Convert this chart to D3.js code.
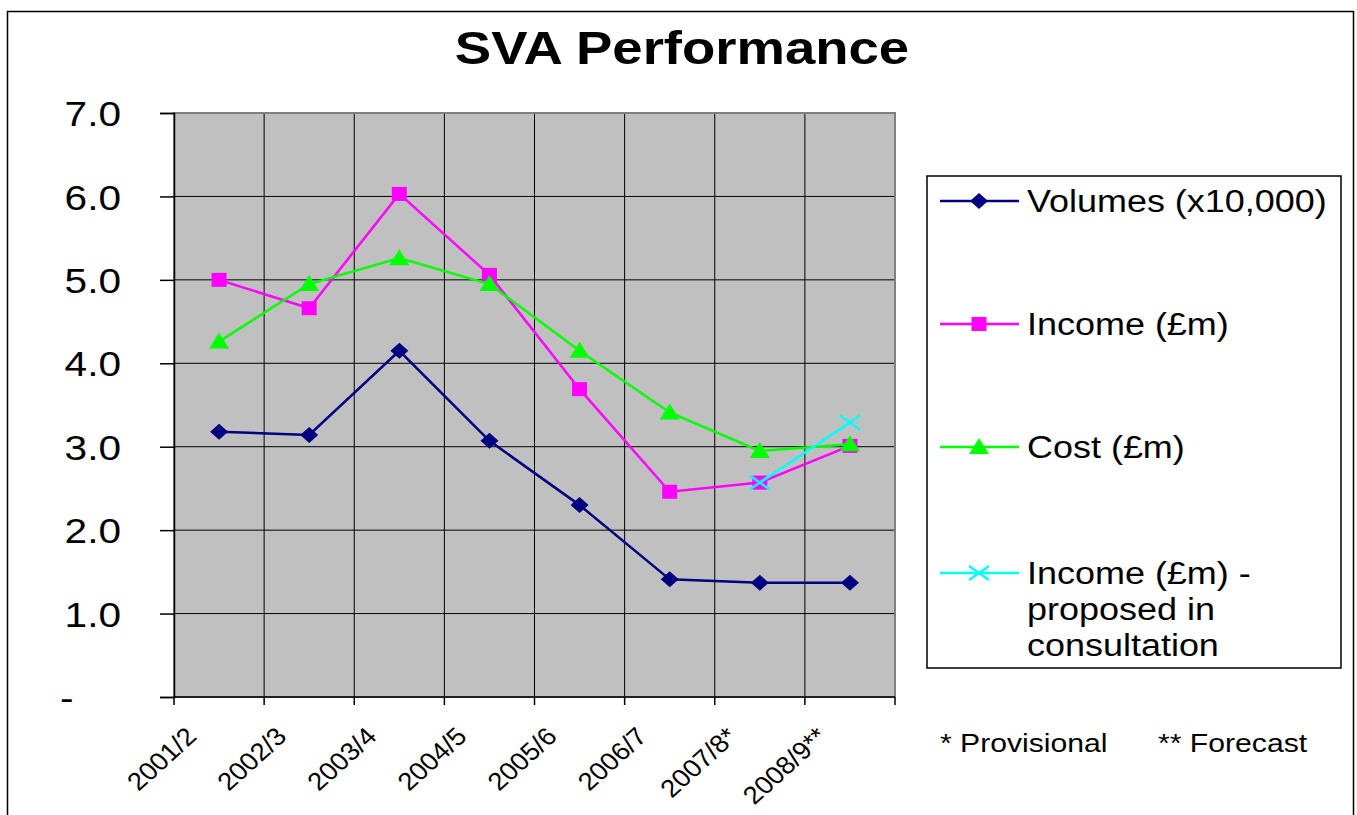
<!DOCTYPE html>
<html>
<head>
<meta charset="utf-8">
<script src="https://cdn.jsdelivr.net/npm/d3@7"></script>
<style>
  body { margin: 0; background: #fff; }
  text { font-family: "Liberation Sans", Arial, sans-serif; }
</style>
</head>
<body>
<svg></svg>
<script>
const width = 1357;
const height = 815;

const years = ["2001/2", "2002/3", "2003/4", "2004/5", "2005/6", "2006/7", "2007/8*", "2008/9**"];
const volumes = [3.18, 3.14, 4.15, 3.07, 2.30, 1.41, 1.37, 1.37];
const income = [5.00, 4.66, 6.03, 5.06, 3.69, 2.46, 2.57, 3.01];
const cost = [4.26, 4.95, 5.26, 4.95, 4.15, 3.41, 2.95, 3.03];
const proposed = [null, null, null, null, null, null, 2.57, 3.29];
const yTicks = [0, 1, 2, 3, 4, 5, 6, 7];

const series = [
  { name: ["Volumes (x10,000)"], values: volumes, color: "#000080", symbol: "diamond" },
  { name: ["Income (£m)"], values: income, color: "#ff00ff", symbol: "square" },
  { name: ["Cost (£m)"], values: cost, color: "#00ff00", symbol: "triangle" },
  { name: ["Income (£m) -", "proposed in", "consultation"], values: proposed, color: "#00ffff", symbol: "cross" },
];

// the original text is drawn a bit wide
const stretch = 1.16;

const svg = d3.select("svg").attr("width", width).attr("height", height);

function addText(parent, tx, ty, str, size) {
  return parent.append("text")
    .attr("transform", `translate(${tx},${ty}) scale(${stretch},1)`)
    .attr("font-size", size)
    .text(str);
}

// outer chart border
svg.append("rect")
  .attr("x", 7.5).attr("y", 11.5)
  .attr("width", 1346).attr("height", 820)
  .attr("fill", "none").attr("stroke", "#000").attr("stroke-width", 1.5);

addText(svg, 682, 64, "SVA Performance", 47)
  .attr("text-anchor", "middle")
  .attr("font-weight", "bold");

const x = d3.scaleBand().domain(years).range([174, 895]);
const y = d3.scaleLinear().domain([0, 7]).range([697, 113]);

const plot = svg.append("g");
plot.append("rect")
  .attr("x", 174).attr("y", 113)
  .attr("width", 721).attr("height", 584)
  .attr("fill", "#c0c0c0");

// gridlines
plot.selectAll(".hgrid")
  .data(yTicks.slice(1))
  .enter()
  .append("line")
  .attr("x1", 174).attr("x2", 895)
  .attr("y1", (d) => y(d)).attr("y2", (d) => y(d))
  .attr("stroke", "#000").attr("stroke-width", 1);

plot.selectAll(".vgrid")
  .data(years.slice(1))
  .enter()
  .append("line")
  .attr("x1", (d) => x(d)).attr("x2", (d) => x(d))
  .attr("y1", 113).attr("y2", 697)
  .attr("stroke", "#000").attr("stroke-width", 1);

plot.append("rect")
  .attr("x", 174).attr("y", 113)
  .attr("width", 721).attr("height", 584)
  .attr("fill", "none").attr("stroke", "#808080").attr("stroke-width", 2);

// y axis
const yAxis = d3.axisLeft(y)
  .tickValues(yTicks)
  .tickSize(14)
  .tickFormat((d) => (d === 0 ? "-" : d3.format(".1f")(d)));
svg.append("g")
  .attr("transform", "translate(174,0)")
  .call(yAxis)
  .call((g) => g.select(".domain").attr("stroke", "#000").attr("stroke-width", 1.5))
  .call((g) => g.selectAll(".tick line").attr("stroke", "#000").attr("stroke-width", 1.5))
  .call((g) => g.selectAll(".tick text")
    .attr("font-family", "Liberation Sans, Arial, sans-serif")
    .attr("font-size", 35).attr("fill", "#000")
    .attr("x", 0).attr("dy", "0.36em")
    .attr("text-anchor", (d) => (d === 0 ? "start" : "end"))
    .attr("transform", (d) => `translate(${d === 0 ? -114 : -53},0) scale(${stretch},1)`));

// x axis
const xBounds = years.map((d) => x(d)).concat([895]);
svg.append("line")
  .attr("x1", 174).attr("x2", 895).attr("y1", 697).attr("y2", 697)
  .attr("stroke", "#000").attr("stroke-width", 1.5);
svg.selectAll(".xtick")
  .data(xBounds)
  .enter()
  .append("line")
  .attr("x1", (d) => d).attr("x2", (d) => d)
  .attr("y1", 697).attr("y2", 705)
  .attr("stroke", "#000").attr("stroke-width", 1.5);
svg.selectAll(".xlabel")
  .data(years)
  .enter()
  .append("text")
  .attr("transform", (d) => `translate(${x(d) + x.bandwidth() / 2 - 21},${738}) scale(1.1,1) rotate(-45)`)
  .attr("text-anchor", "end")
  .attr("font-size", 25)
  .text((d) => d);

// lines and markers
const line = d3.line()
  .defined((d) => d != null)
  .x((d, i) => x(years[i]) + x.bandwidth() / 2)
  .y((d) => y(d));

function drawSymbol(g, type, color, cx, cy) {
  if (type === "diamond") {
    g.append("path")
      .attr("d", `M${cx},${cy - 8}L${cx + 9},${cy}L${cx},${cy + 8}L${cx - 9},${cy}Z`)
      .attr("fill", color);
  } else if (type === "square") {
    g.append("rect")
      .attr("x", cx - 7.5).attr("y", cy - 7).attr("width", 15).attr("height", 14)
      .attr("fill", color);
  } else if (type === "triangle") {
    g.append("path")
      .attr("d", `M${cx},${cy - 9}L${cx + 10},${cy + 7}L${cx - 10},${cy + 7}Z`)
      .attr("fill", color);
  } else {
    g.append("path")
      .attr("d", `M${cx - 10},${cy - 7}L${cx + 10},${cy + 7}M${cx - 10},${cy + 7}L${cx + 10},${cy - 7}`)
      .attr("stroke", color).attr("stroke-width", 2.5);
  }
}

series.forEach((s) => {
  const g = svg.append("g");
  g.append("path")
    .datum(s.values)
    .attr("d", line)
    .attr("fill", "none")
    .attr("stroke", s.color)
    .attr("stroke-width", 2.5);
  s.values.forEach((v, i) => {
    if (v == null) return;
    drawSymbol(g, s.symbol, s.color, x(years[i]) + x.bandwidth() / 2, y(v));
  });
});

// legend
const legend = svg.append("g");
legend.append("rect")
  .attr("x", 927).attr("y", 176)
  .attr("width", 414).attr("height", 492)
  .attr("fill", "#fff").attr("stroke", "#000").attr("stroke-width", 1.5);

const legendY = [201, 324, 447, 573];
series.forEach((s, i) => {
  const ly = legendY[i];
  legend.append("line")
    .attr("x1", 940).attr("x2", 1019).attr("y1", ly).attr("y2", ly)
    .attr("stroke", s.color).attr("stroke-width", 2.5);
  drawSymbol(legend, s.symbol, s.color, 979, ly);
  s.name.forEach((t, j) => {
    addText(legend, 1027, ly + 11 + j * 36, t, 31);
  });
});

addText(svg, 940, 752, "* Provisional", 26);
addText(svg, 1158, 752, "** Forecast", 26);
</script>
</body>
</html>
